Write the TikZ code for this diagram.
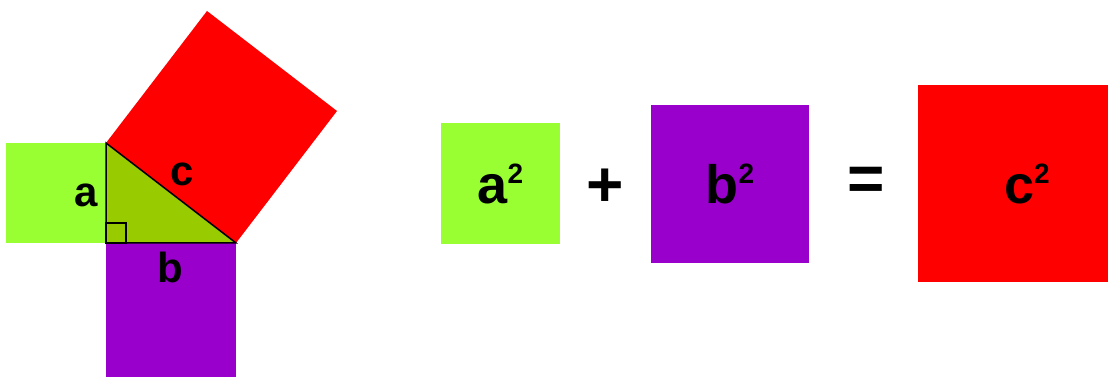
\documentclass[tikz,border=0pt]{standalone}
\usepackage{fontspec}
\setmainfont{Liberation Sans}
\usetikzlibrary{positioning,calc}
\definecolor{sqgreen}{RGB}{153,255,51}
\definecolor{trigreen}{RGB}{153,204,0}
\definecolor{sqpurple}{RGB}{153,0,204}
\definecolor{sqred}{RGB}{255,0,0}
\newcommand{\sqtwo}{\raisebox{10pt}{\fontsize{14}{14}\selectfont 2}}

\begin{document}
\begin{tikzpicture}[x=0.5pt,y=-0.5pt,
 lbl/.style={inner sep=0pt,font=\bfseries\fontsize{21}{24}\selectfont},
 sq/.style={inner sep=0pt,font=\bfseries\fontsize{27}{30}\selectfont},
 op/.style={inner sep=0pt,font=\bfseries\fontsize{32}{34}\selectfont}]
\path[use as bounding box,clip] (0,0) rectangle (1108,378);
% the right triangle and its squares
\coordinate (A) at (106,143);
\coordinate (C) at (106,243);
\coordinate (B) at (236,243);
\fill[sqgreen] (6,143) rectangle (C);
\fill[sqpurple] (C) rectangle (236,377);
\fill[sqred] (A) -- (B) -- (337,111) -- (207,11) -- cycle;
\filldraw[fill=trigreen,line width=0.75pt] (A) -- (C) -- (B) -- cycle;
\draw[line width=0.6pt] (C) rectangle ++(20,-20);
\node[lbl] (la) at (86.5,195) {a};
\node[lbl] (lc) at (182,174) {c};
\node[lbl] (lb) at (170,267) {b};
% the equation
\node[sq,fill=sqgreen,minimum width=59.5pt,minimum height=60.5pt] (asq) at (500.5,183.5) {a\sqtwo};
\node[sq,fill=sqpurple,minimum width=79pt,minimum height=79pt] (bsq) at (730,184) {b\sqtwo};
\node[sq,fill=sqred,minimum width=109pt,minimum height=98.5pt] (csq) at (1027,183.5) {c\sqtwo};
\node[op] (plus) at (605,187.5) {+};
\node[op] (eq) at (866,184) {=};
\end{tikzpicture}
\end{document}
